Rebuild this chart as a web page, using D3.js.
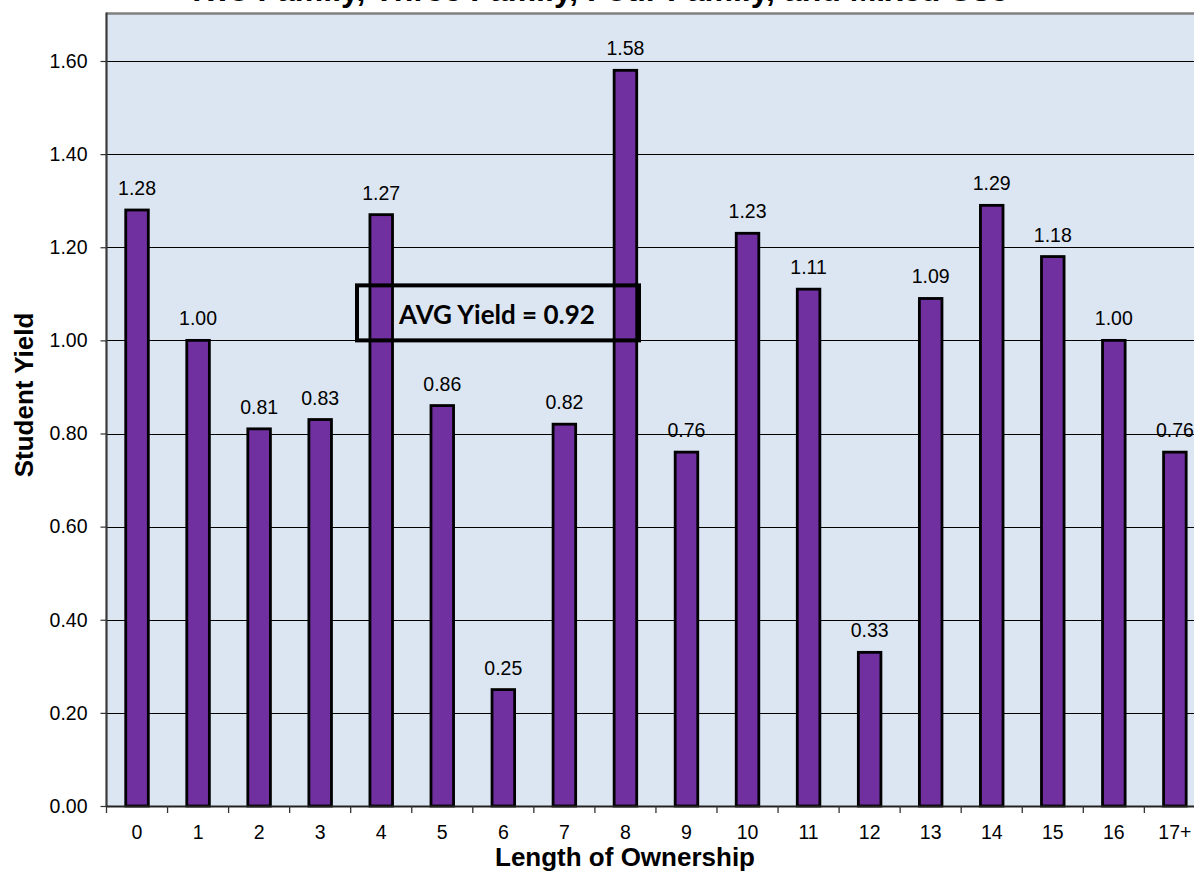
<!DOCTYPE html>
<html>
<head>
<meta charset="utf-8">
<script src="https://cdn.jsdelivr.net/npm/d3@7/dist/d3.min.js"></script>
<style>
  html, body { margin: 0; padding: 0; background: #ffffff; overflow: hidden; }
  svg { display: block; }
</style>
</head>
<body>
<div id="chart"></div>
<script>
// Length of ownership buckets and the student yield for each
const categories = ["0","1","2","3","4","5","6","7","8","9","10","11","12","13","14","15","16","17+"];
const yieldValues = [1.28, 1.00, 0.81, 0.83, 1.27, 0.86, 0.25, 0.82, 1.58, 0.76, 1.23, 1.11, 0.33, 1.09, 1.29, 1.18, 1.00, 0.76];
const yTicks = [0, 0.2, 0.4, 0.6, 0.8, 1.0, 1.2, 1.4, 1.6];
const avgYield = 0.92;
const titleText = "Two Family, Three Family, Four Family, and Mixed Use";

const W = 1194, H = 873;
const plotLeft = 106.5, plotTop = 13.5, plotBottom = 806;
const step = 61.05;
const plotRight = plotLeft + step * categories.length;

const svg = d3.select("#chart").append("svg")
  .attr("width", W).attr("height", H);

const defs = svg.append("defs");
const shadow = defs.append("filter").attr("id", "lineShadow")
  .attr("x", "-5%").attr("y", "-200%").attr("width", "110%").attr("height", "500%");
shadow.append("feDropShadow").attr("dx", 0).attr("dy", 3).attr("stdDeviation", 1.8)
  .attr("flood-color", "#000").attr("flood-opacity", 0.35);

const x = d3.scaleBand().domain(categories).range([plotLeft, plotRight]).padding(0);
const y = d3.scaleLinear().domain([0, 1.6]).range([plotBottom, 61]);

const font = "'Liberation Sans', Arial, sans-serif";

// Title (its upper lines sit above the visible area)
svg.append("text")
  .attr("x", 187).attr("y", 1)
  .attr("font-family", font).attr("font-weight", "bold").attr("font-size", 32)
  .attr("fill", "#000")
  .text(titleText);

// Plot background
svg.append("rect")
  .attr("x", plotLeft).attr("y", plotTop)
  .attr("width", plotRight - plotLeft).attr("height", plotBottom - plotTop)
  .attr("fill", "#dce6f2");

// Horizontal gridlines
svg.append("g").selectAll("line")
  .data(yTicks.filter(d => d > 0))
  .join("line")
  .attr("x1", plotLeft).attr("x2", plotRight)
  .attr("y1", d => Math.round(y(d)) + 0.5).attr("y2", d => Math.round(y(d)) + 0.5)
  .attr("stroke", "#000").attr("stroke-width", 1.2);

// Top border
svg.append("line")
  .attr("x1", plotLeft).attr("x2", plotRight)
  .attr("y1", plotTop).attr("y2", plotTop)
  .attr("stroke", "#808080").attr("stroke-width", 2.5);

// Bars
const barW = step * 0.37;
svg.append("g").selectAll("rect")
  .data(categories.map((c, i) => ({ c, v: yieldValues[i] })))
  .join("rect")
  .attr("x", d => x(d.c) + x.bandwidth() / 2 - barW / 2)
  .attr("y", d => y(d.v))
  .attr("width", barW)
  .attr("height", d => y(0) - y(d.v))
  .attr("fill", "#7030a0")
  .attr("stroke", "#000").attr("stroke-width", 2.8);

// Value labels
svg.append("g").selectAll("text")
  .data(categories.map((c, i) => ({ c, v: yieldValues[i] })))
  .join("text")
  .attr("x", d => x(d.c) + x.bandwidth() / 2)
  .attr("y", d => y(d.v) - 15)
  .attr("text-anchor", "middle")
  .attr("font-family", font).attr("font-size", 19.5)
  .attr("fill", "#000")
  .text(d => d3.format(".2f")(d.v));

// Y axis
const yAxis = svg.append("g")
  .attr("transform", `translate(${plotLeft},0)`)
  .call(d3.axisLeft(y).tickValues(yTicks).tickFormat(d3.format(".2f")).tickSize(6).tickPadding(13));
yAxis.select(".domain").attr("stroke", "#3a3a3a").attr("stroke-width", 2.2)
  .attr("d", `M0,${plotTop - 1}V${plotBottom}`);
yAxis.selectAll(".tick line").attr("stroke", "#333").attr("stroke-width", 1.2);
yAxis.selectAll(".tick text").attr("font-family", font).attr("font-size", 19.5).attr("fill", "#000");

// X axis
const xAxis = svg.append("g")
  .attr("transform", `translate(0,${plotBottom})`)
  .call(d3.axisBottom(x).tickSize(0).tickPadding(19));
xAxis.select(".domain").attr("stroke", "#222").attr("stroke-width", 2);
xAxis.selectAll(".tick text").attr("font-family", font).attr("font-size", 19.5).attr("fill", "#000");
// Category separators
svg.append("g").selectAll("line")
  .data(d3.range(categories.length + 1))
  .join("line")
  .attr("x1", i => plotLeft + i * step).attr("x2", i => plotLeft + i * step)
  .attr("y1", plotBottom).attr("y2", plotBottom + 7)
  .attr("stroke", "#333").attr("stroke-width", 1.3);

// Average line
svg.append("line")
  .attr("x1", 104).attr("x2", 1175)
  .attr("y1", y(avgYield)).attr("y2", y(avgYield))
  .attr("stroke", "#c0504d").attr("stroke-width", 4.5)
  .attr("filter", "url(#lineShadow)");

// Average annotation box
const boxBottom = y(1.0);
svg.append("rect")
  .attr("x", 357).attr("y", boxBottom - 55)
  .attr("width", 282).attr("height", 55)
  .attr("fill", "none").attr("stroke", "#000").attr("stroke-width", 4);
svg.append("text")
  .attr("x", 497).attr("y", boxBottom - 16)
  .attr("text-anchor", "middle")
  .attr("font-family", "Lato, 'Open Sans', sans-serif").attr("font-weight", "bold").attr("font-size", 26)
  .attr("fill", "#000")
  .text(`AVG Yield = ${d3.format(".2f")(avgYield)}`);

// Axis titles
svg.append("text")
  .attr("transform", "translate(33,395) rotate(-90)")
  .attr("text-anchor", "middle")
  .attr("font-family", font).attr("font-weight", "bold").attr("font-size", 26)
  .attr("fill", "#000")
  .text("Student Yield");
svg.append("text")
  .attr("x", 625).attr("y", 866)
  .attr("text-anchor", "middle")
  .attr("font-family", font).attr("font-weight", "bold").attr("font-size", 26)
  .attr("fill", "#000")
  .text("Length of Ownership");
</script>
</body>
</html>
